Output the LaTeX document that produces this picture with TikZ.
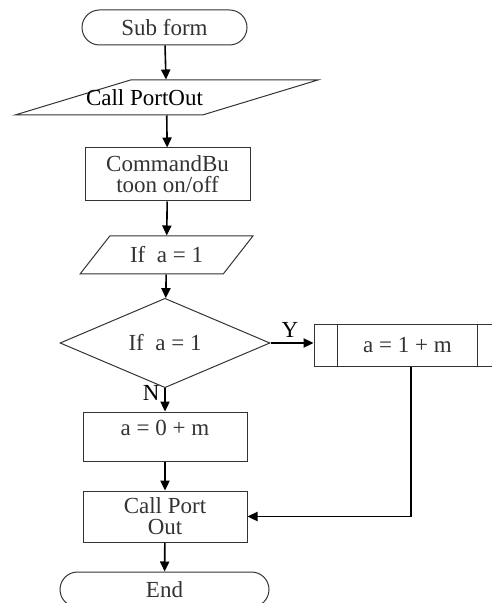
\documentclass[tikz,border=0pt]{standalone}
\usepackage{fontspec}
\setmainfont{Liberation Serif}
\usetikzlibrary{positioning,arrows.meta,shapes.geometric,shapes.misc}

\begin{document}
\begin{tikzpicture}[
    x=0.5pt, y=-0.5pt,
    font=\fontsize{11.5}{10.5}\selectfont,
    shape line/.style={draw, black!80, line width=0.5pt, inner sep=0pt, align=center},
    terminal/.style={shape line, rounded rectangle, minimum height=17.5pt},
    io/.style={shape line, trapezium, trapezium stretches=true, inner sep=2pt},
    process/.style={shape line, rectangle, minimum width=82pt},
    decision/.style={shape line, diamond, minimum width=105pt, minimum height=33pt},
    subproc/.style={shape line, rectangle, minimum width=93.5pt, minimum height=21pt},
    flow/.style={-{Triangle[length=5pt,width=4.6pt]}, black, line width=0.8pt},
  ]
  \useasboundingbox (0,0) rectangle (491,603);

  % ---------- main column ----------
  \node[terminal, minimum width=82.5pt] (start) at (164.5,27.5) {Sub form};

  \node[io, minimum width=151.5pt, minimum height=17.5pt,
        trapezium left angle=30.3, trapezium right angle=149.7] (out1) at (166.5,97.5) {\phantom{X}};
  \node (out1txt) at ([xshift=-11pt]out1.center) {Call PortOut};

  \node[process, minimum width=82.5pt, minimum height=26.5pt] (cmd) at (167.5,174.5)
    {CommandBu\\toon on/off};

  \node[io, minimum width=86.5pt, minimum height=19pt,
        trapezium left angle=49, trapezium right angle=131] (in1) at (166.5,255) {If\ \ a = 1};

  \node[decision] (dia) at (165,343) {If\ \ a = 1};

  \node[process, minimum height=24.5pt, text depth=9pt] (zero) at (165,436.5) {a = 0 + m};
  \node[process, minimum height=25.5pt] (call) at (165,516.5) {Call Port\\Out};

  \node[terminal, minimum width=104.5pt] (end) at (164.5,589.5) {End};

  % ---------- yes branch: predefined process ----------
  \node[subproc] (sub) at (407.5,345) {a = 1 + m};
  \draw[black!80, line width=0.5pt]
    ([xshift=12pt]sub.north west) -- ([xshift=12pt]sub.south west)
    ([xshift=-12pt]sub.north east) -- ([xshift=-12pt]sub.south east);

  % ---------- connectors ----------
  \draw[flow] (start) -- (out1);
  \draw[flow] (out1) -- (cmd);
  \draw[flow] (cmd) -- (in1);
  \draw[flow] (in1) -- (dia);
  \draw[flow] (dia) -- (zero) node[pos=0.22, left=-1pt] (nlbl) {N};
  \draw[flow] (zero) -- (call);
  \draw[flow] (call) -- (end);
  \draw[flow] (dia.east) -- (dia.east -| sub.west) node[pos=0.45, above=-1pt] (ylbl) {Y};
  \draw[flow] ([xshift=1.75pt]sub.south) |- (call.east);

\end{tikzpicture}
\end{document}
